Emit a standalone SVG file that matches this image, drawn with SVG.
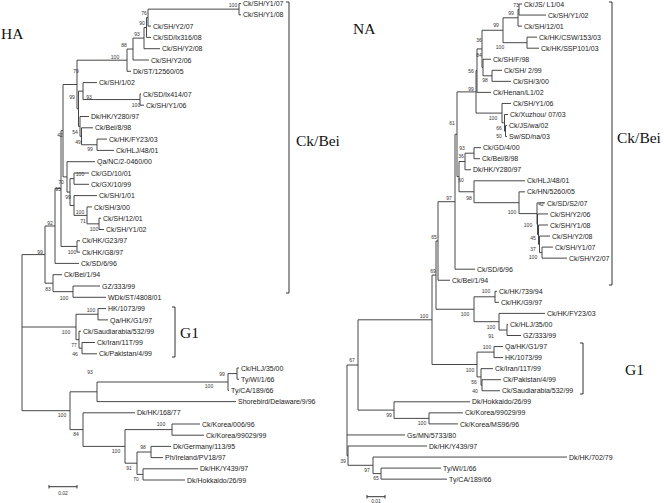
<svg xmlns="http://www.w3.org/2000/svg" width="664" height="503" viewBox="0 0 664 503">
<style>
.c path{fill:none;stroke:#333;stroke-width:0.9}
.l{font-family:"Liberation Sans",Arial,sans-serif;font-size:7px;fill:#222}
.b{font-family:"Liberation Sans",Arial,sans-serif;font-size:5px;fill:#333;text-anchor:middle}
.t{font-family:"Liberation Serif","Times New Roman",serif;font-size:15.5px;fill:#111}
.k{fill:none;stroke:#333;stroke-width:1}
</style>
<rect width="664" height="503" fill="#fff"/>
<g id="connectors" class="c">
<path d="M239,3.5V14.8M239,3.5H241M239,14.8H241M148,9.15V26.1M148,9.15H239M148,26.1H151M146.5,17.6V37.4M146.5,17.6H148M146.5,37.4H151M144,27.5V48.7M144,27.5H146.5M144,48.7H160M133,38.1V60M133,38.1H144M133,60H149M127,49.05V71.3M127,49.05H133M127,71.3H131M140,93.9V105.2M140,93.9H141M140,105.2H144M83,82.6V99.55M83,82.6H97M83,99.55H140M97,139.1V150.4M97,139.1H107M97,150.4H114M81.5,127.8V144.75M81.5,127.8H93M81.5,144.75H97M80,116.5V136.3M80,116.5H89M80,136.3H81.5M78.5,91.1V126.4M78.5,91.1H83M78.5,126.4H80M77,60.2V108.75M77,60.2H127M77,108.75H78.5M74,173V184.3M74,173H89M74,184.3H89M99,218.2V229.5M99,218.2H101M99,229.5H104M87,206.9V223.85M87,206.9H92M87,223.85H99M74,195.6V215.4M74,195.6H97M74,215.4H87M70,178.65V205.5M70,178.65H74M70,205.5H74M67,161.7V192.1M67,161.7H95M67,192.1H70M63,84.5V176.9M63,84.5H77M63,176.9H67M77,240.8V252.1M77,240.8H80M77,252.1H80M61,130.7V246.45M61,130.7H63M61,246.45H77M55,188.6V263.4M55,188.6H61M55,263.4H79M73,286V297.3M73,286H100M73,297.3H106M53,274.7V291.65M53,274.7H62M53,291.65H73M45,226V283.2M45,226H55M45,283.2H53M98,308.6V319.9M98,308.6H106M98,319.9H108M82,342.5V353.8M82,342.5H95M82,353.8H97M79,331.2V348.15M79,331.2H81M79,348.15H82M76,314.25V339.7M76,314.25H98M76,339.7H79"/>
<path d="M237,368V379.2M237,368H239M237,379.2H239M228,373.6V390.4M228,373.6H237M228,390.4H229M97,382V401.6M97,382H228M97,401.6H236M172,424V435.2M172,424H200M172,435.2H204M151,446.4V457.6M151,446.4H171M151,457.6H163M143,468.8V480M143,468.8H198M143,480H185M137,452V474.4M137,452H151M137,474.4H143M125,429.6V463.2M125,429.6H172M125,463.2H137M83,412.8V446.4M83,412.8H135M83,446.4H125M70,391.8V429.6M70,391.8H97M70,429.6H83M22,254.6V410.7M22,254.6H45M22,327H76M22,410.7H70"/>
<path d="M519,4V15.05M519,4H522M519,15.05H546M518,9.5V26.1M518,9.5H519M518,26.1H522M527,37.15V48.2M527,37.15H537M527,48.2H539M503,17.8V42.7M503,17.8H518M503,42.7H527M492,70.3V81.35M492,70.3H502M492,81.35H511M483,59.25V75.8M483,59.25H491M483,75.8H492M482,30.25V67.5M482,30.25H503M482,67.5H483M477,48.9V92.4M477,48.9H482M477,92.4H491M505.5,125.55V136.6M505.5,125.55H507M505.5,136.6H507M504.5,114.5V131.1M504.5,114.5H508M504.5,131.1H505.5M502,103.45V122.8M502,103.45H511M502,122.8H504.5M476,70.65V113.1M476,70.65H477M476,113.1H502M474,147.65V158.7M474,147.65H481M474,158.7H480M465,153.2V169.75M465,153.2H474M465,169.75H471M542,247.1V258.15M542,247.1H553M542,258.15H567M539.5,236.05V252.6M539.5,236.05H550M539.5,252.6H542M538.5,225V244.3M538.5,225H548M538.5,244.3H539.5M537.5,213.95V234.65M537.5,213.95H548M537.5,234.65H538.5M537,202.9V224.3M537,202.9H545M537,224.3H537.5M519,191.85V213.6M519,191.85H525M519,213.6H537M474,180.8V202.7M474,180.8H525M474,202.7H519M459,161.5V191.75M459,161.5H465M459,191.75H474M457,91.9V176.6M457,91.9H476M457,176.6H459M455,134.25V269.2M455,134.25H457M455,269.2H475M438,201.7V280.25M438,201.7H455M438,280.25H450M495,291.3V302.35M495,291.3H497M495,302.35H499M507,324.45V335.5M507,324.45H508M507,335.5H521M499,313.4V330M499,313.4H545M499,330H507M474,296.8V321.7M474,296.8H495M474,321.7H499M436,241V309.25M436,241H438M436,309.25H474M494,346.55V357.6M494,346.55H503M494,357.6H503M482,379.7V390.75M482,379.7H501M482,390.75H500M481,368.65V385.2M481,368.65H493M481,385.2H482M477,352.1V376.9M477,352.1H494M477,376.9H481M432,275.1V364.5M432,275.1H436M432,364.5H477M429,412.85V423.9M429,412.85H463M429,423.9H458M394,401.8V418.4M394,401.8H470M394,418.4H429M358,319.8V410.1M358,319.8H432M358,410.1H394M381,468.1V479.15M381,468.1H441M381,479.15H447M373,457.05V473.6M373,457.05H567M373,473.6H381M348,446V465.3M348,446H427M348,465.3H373M347,365V455.7M347,365H358M347,434.95H405M347,455.7H348"/>
</g>
<g id="ha-leaves" class="l">
<text id="ha-0" x="243" y="6.1">Ck/SH/Y1/07</text>
<text id="ha-1" x="243" y="17.4">Ck/SH/Y1/08</text>
<text id="ha-2" x="153" y="28.7">Ck/SH/Y2/07</text>
<text id="ha-3" x="153" y="40">Ck/SD/lx316/08</text>
<text id="ha-4" x="162" y="51.3">Ck/SH/Y2/08</text>
<text id="ha-5" x="151" y="62.6">Ck/SH/Y2/06</text>
<text id="ha-6" x="133" y="73.9">Dk/ST/12560/05</text>
<text id="ha-7" x="99" y="85.2">Ck/SH/1/02</text>
<text id="ha-8" x="143" y="96.5">Ck/SD/lx414/07</text>
<text id="ha-9" x="146" y="107.8">Ck/SH/Y1/06</text>
<text id="ha-10" x="91" y="119.1">Dk/HK/Y280/97</text>
<text id="ha-11" x="95" y="130.4">Ck/Bei/8/98</text>
<text id="ha-12" x="109" y="141.7">Ck/HK/FY23/03</text>
<text id="ha-13" x="116" y="153">Ck/HLJ/48/01</text>
<text id="ha-14" x="97" y="164.3">Qa/NC/2-0460/00</text>
<text id="ha-15" x="91" y="175.6">Ck/GD/10/01</text>
<text id="ha-16" x="91" y="186.9">Ck/GX/10/99</text>
<text id="ha-17" x="99" y="198.2">Ck/SH/1/01</text>
<text id="ha-18" x="94" y="209.5">Ck/SH/3/00</text>
<text id="ha-19" x="103" y="220.8">Ck/SH/12/01</text>
<text id="ha-20" x="106" y="232.1">Ck/SH/Y1/02</text>
<text id="ha-21" x="82" y="243.4">Ck/HK/G23/97</text>
<text id="ha-22" x="82" y="254.7">Ck/HK/G8/97</text>
<text id="ha-23" x="81" y="266">Ck/SD/6/96</text>
<text id="ha-24" x="64" y="277.3">Ck/Bei/1/94</text>
<text id="ha-25" x="102" y="288.6">GZ/333/99</text>
<text id="ha-26" x="108" y="299.9">WDk/ST/4808/01</text>
<text id="ha-27" x="108" y="311.2">HK/1073/99</text>
<text id="ha-28" x="110" y="322.5">Qa/HK/G1/97</text>
<text id="ha-29" x="83" y="333.8">Ck/Saudiarabia/532/99</text>
<text id="ha-30" x="97" y="345.1">Ck/Iran/11T/99</text>
<text id="ha-31" x="99" y="356.4">Ck/Pakistan/4/99</text>
<text id="ha-32" x="241" y="370.6">Ck/HLJ/35/00</text>
<text id="ha-33" x="241" y="381.8">Ty/WI/1/66</text>
<text id="ha-34" x="231" y="393">Ty/CA/189/66</text>
<text id="ha-35" x="238" y="404.2">Shorebird/Delaware/9/96</text>
<text id="ha-36" x="137" y="415.4">Dk/HK/168/77</text>
<text id="ha-37" x="202" y="426.6">Ck/Korea/006/96</text>
<text id="ha-38" x="206" y="437.8">Ck/Korea/99029/99</text>
<text id="ha-39" x="173" y="449">Dk/Germany/113/95</text>
<text id="ha-40" x="165" y="460.2">Ph/Ireland/PV18/97</text>
<text id="ha-41" x="200" y="471.4">Dk/HK/Y439/97</text>
<text id="ha-42" x="187" y="482.6">Dk/Hokkaido/26/99</text>
</g>
<g id="ha-support" class="b">
<text x="233" y="6.8">100</text><text x="144" y="14.8">76</text><text x="142" y="24.8">90</text><text x="137" y="35.8">93</text><text x="124" y="46.8">88</text><text x="115" y="58.8">100</text><text x="76" y="72.8">79</text><text x="72" y="98.8">99</text><text x="89" y="98.8">93</text><text x="136" y="106.8">100</text><text x="60" y="136.8">42</text><text x="75" y="133.8">54</text><text x="78" y="143.8">49</text><text x="90" y="150.8">99</text><text x="61" y="183.8">70</text><text x="80" y="175.8">100</text><text x="58" y="190.8">95</text><text x="68" y="198.8">99</text><text x="80" y="213.8">100</text><text x="83" y="222.8">71</text><text x="94" y="230.8">100</text><text x="50" y="224.8">92</text><text x="72" y="253.8">100</text><text x="40" y="253.8">99</text><text x="48" y="290.8">83</text><text x="64" y="299.8">100</text><text x="91" y="311.8">100</text><text x="66" y="333.8">100</text><text x="74" y="346.8">77</text><text x="75" y="355.8">46</text><text x="222" y="376.3">99</text><text x="209" y="387.8">100</text><text x="90" y="373.8">93</text><text x="62" y="416.8">100</text><text x="76" y="435.8">84</text><text x="161" y="425.8">100</text><text x="116" y="452.8">100</text><text x="143" y="448.8">98</text><text x="129" y="469.8">91</text><text x="136" y="480.8">70</text>
</g>
<g id="na-leaves" class="l">
<text id="na-0" x="524" y="6.6">Ck/JS/ L1/04</text>
<text id="na-1" x="548" y="17.65">Ck/SH/Y1/02</text>
<text id="na-2" x="524" y="28.7">Ck/SH/12/01</text>
<text id="na-3" x="539" y="39.75">Ck/HK/CSW/153/03</text>
<text id="na-4" x="541" y="50.8">Ck/HK/SSP101/03</text>
<text id="na-5" x="493" y="61.85">Ck/SH/F/98</text>
<text id="na-6" x="504" y="72.9">Ck/SH/ 2/99</text>
<text id="na-7" x="513" y="83.95">Ck/SH/3/00</text>
<text id="na-8" x="493" y="95">Ck/Henan/L1/02</text>
<text id="na-9" x="513" y="106.05">Ck/SH/Y1/06</text>
<text id="na-10" x="510" y="117.1">Ck/Xuzhou/ 07/03</text>
<text id="na-11" x="509" y="128.15">Ck/JS/wa/02</text>
<text id="na-12" x="509" y="139.2">Sw/SD/na/03</text>
<text id="na-13" x="483" y="150.25">Ck/GD/4/00</text>
<text id="na-14" x="482" y="161.3">Ck/Bei/8/98</text>
<text id="na-15" x="473" y="172.35">Dk/HK/Y280/97</text>
<text id="na-16" x="527" y="183.4">Ck/HLJ/48/01</text>
<text id="na-17" x="527" y="194.45">Ck/HN/5260/05</text>
<text id="na-18" x="547" y="205.5">Ck/SD/S2/07</text>
<text id="na-19" x="550" y="216.55">Ck/SH/Y2/06</text>
<text id="na-20" x="550" y="227.6">Ck/SH/Y1/08</text>
<text id="na-21" x="552" y="238.65">Ck/SH/Y2/08</text>
<text id="na-22" x="555" y="249.7">Ck/SH/Y1/07</text>
<text id="na-23" x="569" y="260.75">Ck/SH/Y2/07</text>
<text id="na-24" x="477" y="271.8">Ck/SD/6/96</text>
<text id="na-25" x="452" y="282.85">Ck/Bei/1/94</text>
<text id="na-26" x="499" y="293.9">Ck/HK/739/94</text>
<text id="na-27" x="501" y="304.95">Ck/HK/G9/97</text>
<text id="na-28" x="547" y="316">Ck/HK/FY23/03</text>
<text id="na-29" x="510" y="327.05">Ck/HLJ/35/00</text>
<text id="na-30" x="523" y="338.1">GZ/333/99</text>
<text id="na-31" x="505" y="349.15">Qa/HK/G1/97</text>
<text id="na-32" x="505" y="360.2">HK/1073/99</text>
<text id="na-33" x="495" y="371.25">Ck/Iran/11T/99</text>
<text id="na-34" x="503" y="382.3">Ck/Pakistan/4/99</text>
<text id="na-35" x="502" y="393.35">Ck/Saudiarabia/532/99</text>
<text id="na-36" x="472" y="404.4">Dk/Hokkaido/26/99</text>
<text id="na-37" x="465" y="415.45">Ck/Korea/99029/99</text>
<text id="na-38" x="460" y="426.5">Ck/Korea/MS96/96</text>
<text id="na-39" x="407" y="437.55">Gs/MN/5733/80</text>
<text id="na-40" x="429" y="448.6">Dk/HK/Y439/97</text>
<text id="na-41" x="569" y="459.65">Dk/HK/702/79</text>
<text id="na-42" x="443" y="470.7">Ty/WI/1/66</text>
<text id="na-43" x="449" y="481.75">Ty/CA/189/66</text>
</g>
<g id="na-support" class="b">
<text x="516" y="6.8">73</text><text x="511" y="14.8">99</text><text x="496" y="26.8">99</text><text x="500" y="48.8">100</text><text x="479" y="41.8">36</text><text x="479" y="56.8">84</text><text x="471" y="72.8">56</text><text x="485" y="81.8">98</text><text x="471" y="90.8">99</text><text x="493" y="119.8">100</text><text x="499" y="129.8">66</text><text x="499" y="137.8">50</text><text x="452" y="124.8">61</text><text x="462" y="149.8">93</text><text x="461" y="157.8">36</text><text x="461" y="181.8">60</text><text x="469" y="199.8">98</text><text x="449" y="199.8">97</text><text x="512" y="213.8">100</text><text x="541" y="205.8">42</text><text x="528" y="226.8">100</text><text x="533" y="239.8">45</text><text x="533" y="250.8">37</text><text x="533" y="258.8">100</text><text x="434" y="238.8">65</text><text x="433" y="272.8">69</text><text x="486" y="292.8">100</text><text x="465" y="315.8">100</text><text x="424" y="317.8">100</text><text x="491" y="328.8">100</text><text x="491" y="337.8">91</text><text x="487" y="348.8">100</text><text x="470" y="371.8">100</text><text x="474" y="383.8">56</text><text x="475" y="392.8">40</text><text x="352" y="361.8">67</text><text x="389" y="416.8">99</text><text x="422" y="424.8">100</text><text x="343" y="462.8">39</text><text x="367" y="471.8">97</text><text x="376" y="479.8">65</text>
</g>
<g id="titles">
<text id="title-ha" class="t" x="1" y="38.5">HA</text>
<text id="title-na" class="t" x="353" y="33.5">NA</text>
</g>
<g id="clade-ha-ckbei">
<path class="k" d="M286,2H289V293H286"/>
<text class="t" x="296" y="146">Ck/Bei</text>
</g>
<g id="clade-ha-g1">
<path class="k" d="M172,307H175V357H172"/>
<text class="t" x="180" y="338">G1</text>
</g>
<g id="clade-na-ckbei">
<path class="k" d="M609,2H612V285H609"/>
<text class="t" x="617" y="143">Ck/Bei</text>
</g>
<g id="clade-na-g1">
<path class="k" d="M580,343H583V394H580"/>
<text class="t" x="625" y="375">G1</text>
</g>
<g id="scalebars">
<path class="k" d="M49,486.7H77M49,485V488.5M77,485V488.5M367,496.7H385M367,495V498.5M385,495V498.5"/>
<text class="b" x="63" y="494.5">0.02</text>
<text class="b" x="376" y="502.5">0.01</text>
</g>
</svg>
